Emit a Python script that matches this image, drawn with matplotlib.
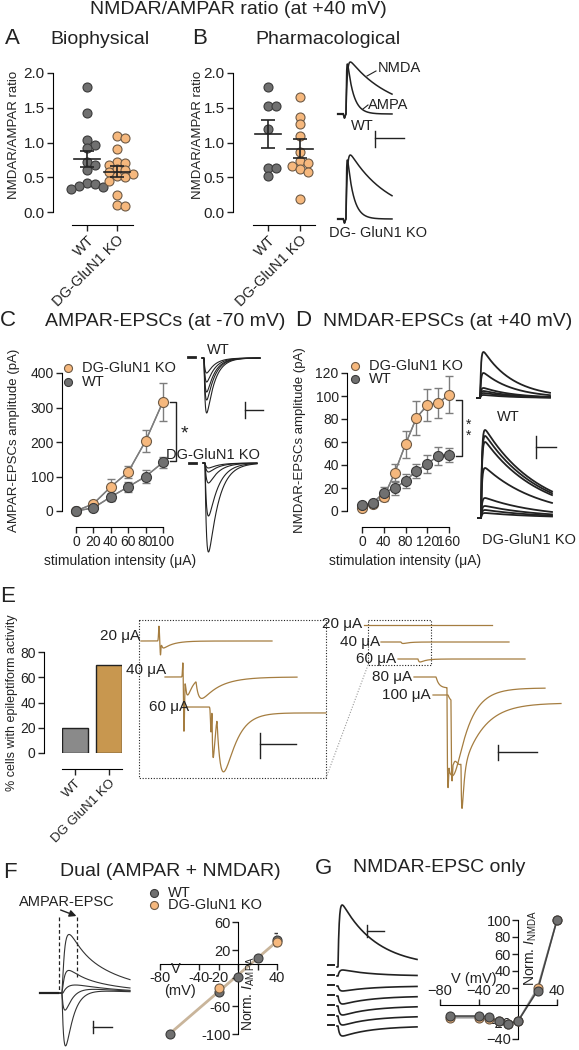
import numpy as np
import matplotlib
matplotlib.use("Agg")
from matplotlib import pyplot as plt
from matplotlib.ticker import FormatStrFormatter

plt.rcParams["font.family"] = ["Liberation Sans", "DejaVu Sans"]
plt.rcParams["mathtext.fontset"] = "custom"
plt.rcParams["mathtext.rm"] = "Liberation Sans"
plt.rcParams["mathtext.it"] = "Liberation Sans:italic"

W, H = 579, 1050
INK = "#222222"
GREY = "#707070"
GREY_EDGE = "#3a3a3a"
ORANGE = "#f6b87d"
ORANGE_EDGE = "#6e5a45"
GOLD = "#a57d40"
BAR_WT = "#8a8a8a"
BAR_KO = "#c8974f"
LINE = "#7d7d7d"

# ---------------- values ----------------
groups = ["WT", "DG-GluN1 KO"]

# A  biophysical NMDAR/AMPAR ratio
bio_wt = [1.80, 1.42, 1.04, 0.97, 0.92, 0.72, 0.68, 0.60, 0.42, 0.40, 0.38, 0.36, 0.33]
bio_ko = [1.10, 1.06, 0.90, 0.72, 0.70, 0.68, 0.62, 0.60, 0.58, 0.55, 0.52, 0.50,
          0.45, 0.25, 0.10, 0.08]
bio_mean = [0.76, 0.58]
bio_sem = [0.115, 0.075]

# B  pharmacological NMDAR/AMPAR ratio
pharm_wt = [1.80, 1.53, 1.53, 1.20, 0.64, 0.64, 0.52]
pharm_ko = [1.66, 1.36, 1.26, 1.10, 0.87, 0.73, 0.70, 0.66, 0.62, 0.58, 0.19]
pharm_mean = [1.12, 0.91]
pharm_sem = [0.20, 0.14]

# C  AMPAR-EPSC input/output
stim_ampa = [0, 20, 40, 60, 80, 100]
ampa_ko = [0, 21, 70, 113, 203, 317]
ampa_ko_err = [0, 4, 24, 17, 32, 55]
ampa_wt = [0, 9, 41, 70, 100, 141]
ampa_wt_err = [0, 4, 12, 15, 20, 16]

# D  NMDAR-EPSC input/output
stim_nmda = [0, 20, 40, 60, 80, 100, 120, 140, 160]
nmda_ko = [3, 6, 12, 33, 58, 81, 92, 94, 101]
nmda_ko_err = [1, 1, 3, 8, 12, 15, 14, 13, 16]
nmda_wt = [5, 7, 16, 20, 26, 35, 41, 48, 49]
nmda_wt_err = [1, 1, 5, 6, 6, 6, 8, 8, 6]

# E  % cells with epileptiform activity
epi_pct = [20, 70]

# F  AMPAR I-V (dual)
v_dual = [-70, -20, 0, 20, 40]
iampa_wt = [-100, -40, -18, 8, 35]
iampa_ko = [-100, -34, -18, 8, 31]
iampa_wt_err = [0, 3, 2, 3, 9]

# G  NMDAR I-V
v_nmda = [-70, -40, -30, -20, -10, 0, 20, 40]
inmda_wt = [-13, -13, -14, -19, -22, -19, 17, 100]
inmda_ko = [-15, -15, -17, -19, -22, -19, 20, 100]

# example traces (peak size, in scale-bar pixels)
b_ampa_peak = [50, 59]
b_nmda_peak = [52, 64]
c_wt_peaks = [15, 24, 34, 42, 55]
c_ko_peaks = [5, 9, 20, 53, 89]
d_wt_peaks = [46, 25, 10, 7, 5, 3]
d_ko_peaks = [88, 82, 76, 50, 20, 12, 8, 5]
e_stims = ["20 μA", "40 μA", "60 μA", "80 μA", "100 μA"]
f_ampa = [30, 12, 0, -20, -55]
f_nmda = [40, 15, 8, 6, 4]
g_peaks = [62, -6, 5, 8, 9, 9, 10]

fig = plt.figure(figsize=(W / 100, H / 100), dpi=100)


def box(x0, y0, x1, y1):
    return fig.add_axes([x0 / W, 1 - y1 / H, (x1 - x0) / W, (y1 - y0) / H])


def pt(px):
    return px * 0.72


def prism(ax, left_gap, bottom_gap, size=10):
    ax.spines["top"].set_visible(False)
    ax.spines["right"].set_visible(False)
    ax.spines["left"].set_position(("outward", pt(left_gap)))
    ax.spines["bottom"].set_position(("outward", pt(bottom_gap)))
    ax.patch.set_visible(False)
    ax.tick_params(length=4, width=1, labelsize=size, pad=2, colors=INK)


# simple beeswarm offsets (pixels -> data units); points may overlap a bit
def swarm(vals, xpx, ypx, d=6.5):
    placed = []
    offs = []
    for v in vals:
        y = v * ypx
        k = 0
        ok = None
        while ok is None:
            cands = [0.0] if k == 0 else [k * d * 0.6, -k * d * 0.6]
            for c in cands:
                if all((c - a) ** 2 + (y - b) ** 2 >= d ** 2 for a, b in placed):
                    ok = c
                    break
            k += 1
        placed.append((ok, y))
        offs.append(ok / xpx)
    return offs


def column(ax, data, means, sems, xpx, ypx):
    for i, vals in enumerate(data):
        fc, ec = (GREY, GREY_EDGE) if i == 0 else (ORANGE, ORANGE_EDGE)
        offs = np.array(swarm(vals, xpx, ypx)) + i
        ax.scatter(offs, vals, s=pt(9) ** 2, c=fc, edgecolors=ec, linewidths=0.8,
                   zorder=3, clip_on=False)
        ax.plot([i - 0.42, i + 0.42], [means[i]] * 2, color=INK, lw=1.2, zorder=4)
        ax.errorbar(i, means[i], yerr=sems[i], color=INK, lw=1.2, capsize=pt(7),
                    capthick=1.2, zorder=4)


def dose(ax, x, series):
    for y, e, fc, ec in series:
        ax.errorbar(x, y, yerr=e, color=LINE, lw=1, capsize=pt(4), capthick=1,
                    zorder=2, clip_on=False)
        ax.scatter(x, y, s=pt(10) ** 2, c=fc, edgecolors=ec, linewidths=0.8,
                   zorder=3, clip_on=False)


def psc(x, t0, amp, tr, td):
    t = np.clip(x - t0, 0, None)
    tp = tr * td / (td - tr) * np.log(td / tr)
    k = (np.exp(-t / td) - np.exp(-t / tr)) / (np.exp(-tp / td) - np.exp(-tp / tr))
    return amp * k


def spike(x, t0, amp, w=0.6):
    return amp * np.exp(-((x - t0) / w) ** 2)


def step(x, t0, amp, tau):
    return amp * (1 - np.exp(-np.clip(x - t0, 0, None) / tau))


# ---------------- A ----------------
axA = box(72, 73, 133, 212)
axA.set_ylim(0, 2)
axA.set_xlim(-0.5, 1.53)
prism(axA, 19, 13, size=11)
axA.set_yticks([0, 0.5, 1, 1.5, 2])
axA.yaxis.set_major_formatter(FormatStrFormatter("%.1f"))
axA.set_xticks([0, 1])
axA.set_xticklabels(groups, rotation=45, ha="right", rotation_mode="anchor", fontsize=10.5)
column(axA, [bio_wt, bio_ko], bio_mean, bio_sem, 30, 69.5)

# ---------------- B ----------------
axB = box(253, 73, 315, 212)
axB.set_ylim(0, 2)
axB.set_xlim(-0.47, 1.47)
prism(axB, 20, 13, size=11)
axB.set_yticks([0, 0.5, 1, 1.5, 2])
axB.yaxis.set_major_formatter(FormatStrFormatter("%.1f"))
axB.set_xticks([0, 1])
axB.set_xticklabels(groups, rotation=45, ha="right", rotation_mode="anchor", fontsize=10.5)
column(axB, [pharm_wt, pharm_ko], pharm_mean, pharm_sem, 32, 69.5)

# ---------------- C ----------------
axC = box(76, 373, 163, 511)
axC.set_xlim(0, 100)
axC.set_ylim(0, 400)
prism(axC, 14, 16, size=10)
axC.set_xticks(stim_ampa)
axC.set_yticks([0, 100, 200, 300, 400])
axC.plot(stim_ampa, ampa_ko, color=LINE, lw=1, zorder=1)
axC.plot(stim_ampa, ampa_wt, color=LINE, lw=1, zorder=1)
dose(axC, stim_ampa, [(ampa_ko, ampa_ko_err, ORANGE, ORANGE_EDGE),
                      (ampa_wt, ampa_wt_err, GREY, GREY_EDGE)])

# ---------------- D ----------------
axD = box(362, 373, 449, 511)
axD.set_xlim(0, 160)
axD.set_ylim(0, 120)
prism(axD, 15, 16, size=10)
axD.set_xticks([0, 40, 80, 120, 160])
axD.set_yticks([0, 20, 40, 60, 80, 100, 120])
axD.plot(stim_nmda, nmda_ko, color=LINE, lw=1, zorder=1)
axD.plot(stim_nmda, nmda_wt, color=LINE, lw=1, zorder=1)
dose(axD, stim_nmda, [(nmda_ko, nmda_ko_err, ORANGE, ORANGE_EDGE),
                      (nmda_wt, nmda_wt_err, GREY, GREY_EDGE)])

# ---------------- E bars ----------------
axE = box(62, 652, 122, 753)
axE.set_xlim(-0.38, 1.38)
axE.set_ylim(0, 80)
prism(axE, 18, 16, size=10)
axE.bar([0, 1], epi_pct, width=0.76, color=[BAR_WT, BAR_KO], edgecolor=INK, linewidth=1)
axE.set_yticks([0, 20, 40, 60, 80])
axE.set_xticks([0, 1])
axE.set_xticklabels(["WT", "DG GluN1 KO"], rotation=45, ha="right",
                    rotation_mode="anchor", fontsize=9.5)

# ---------------- F I-V ----------------
axF = box(160, 922, 277, 1034)
axF.set_xlim(-80, 40)
axF.set_ylim(-100, 60)
for s in ["top", "right"]:
    axF.spines[s].set_visible(False)
axF.spines["left"].set_position(("data", 0))
axF.spines["bottom"].set_position(("data", 0))
axF.patch.set_visible(False)
axF.tick_params(length=4, width=1, labelsize=10.5, pad=1, colors=INK)
axF.set_xticks([-80, -40, -20, 0, 20, 40])
axF.set_xticklabels(["-80", "-40", "-20", "", "", "40"])
axF.set_yticks([-100, -60, -20, 20, 60])
axF.set_yticklabels(["-100", "-60", "", "20", "60"])
fit = np.polyfit(v_dual + v_dual, iampa_wt + iampa_ko, 1)
vv = np.array([v_dual[0], v_dual[-1]])
axF.plot(vv, np.polyval(fit, vv), color="#c9b59b", lw=2, zorder=1)
axF.errorbar(v_dual, iampa_wt, yerr=iampa_wt_err, fmt="none", ecolor=GREY_EDGE,
             capsize=pt(3), lw=1, zorder=2)
axF.scatter(v_dual, iampa_wt, s=pt(9) ** 2, c=GREY, edgecolors=GREY_EDGE, lw=0.8,
            zorder=3, clip_on=False)
axF.scatter(v_dual[1::3], iampa_ko[1::3], s=pt(9) ** 2, c=ORANGE, edgecolors=ORANGE_EDGE,
            lw=0.8, zorder=3, clip_on=False)

# ---------------- G I-V ----------------
axG = box(440, 920, 557, 1039)
axG.set_xlim(-80, 40)
axG.set_ylim(-40, 100)
for s in ["bottom", "right"]:
    axG.spines[s].set_visible(False)
axG.spines["left"].set_position(("data", 0))
axG.spines["top"].set_position(("data", 0))
axG.xaxis.set_ticks_position("top")
axG.patch.set_visible(False)
axG.tick_params(length=4, width=1, labelsize=10.5, pad=1, colors=INK)
axG.set_xticks([-80, -40, 40])
axG.set_yticks([-40, -20, 20, 40, 60, 80, 100])
axG.plot(v_nmda, inmda_ko, color="#9a9a9a", lw=1.2, zorder=1)
axG.plot(v_nmda, inmda_wt, color="#444444", lw=1.2, zorder=1)
axG.scatter(v_nmda, inmda_ko, s=pt(9) ** 2, c=ORANGE, edgecolors=ORANGE_EDGE, lw=0.8,
            zorder=3, clip_on=False)
axG.scatter(v_nmda, inmda_wt, s=pt(9) ** 2, c=GREY, edgecolors=GREY_EDGE, lw=0.8,
            zorder=4, clip_on=False)

# ---------------- overlay: text + traces, pixel coords ----------------
ov = fig.add_axes([0, 0, 1, 1], zorder=10)
ov.set_xlim(0, W)
ov.set_ylim(H, 0)
ov.axis("off")


def txt(x, y, s, size=10.5, ha="left", va="center", **kw):
    ov.text(x, y, s, fontsize=size, ha=ha, va=va, color=INK, **kw)


def bar(x, y0, y1, x1, yh, color=INK):
    ov.plot([x, x], [y0, y1], color=color, lw=1)
    ov.plot([x, x1], [yh, yh], color=color, lw=1)


def legend_pts(x, ys, labels, size=10.5):
    for y, lab, fc, ec in zip(ys, labels, [ORANGE, GREY], [ORANGE_EDGE, GREY_EDGE]):
        ov.scatter([x], [y], s=pt(8) ** 2, c=fc, edgecolors=ec, lw=0.8)
        txt(x + 14, y, lab, size)


# titles and panel letters
txt(90, 9, "NMDAR/AMPAR ratio (at +40 mV)", 14)
txt(5, 38, "A", 16)
txt(50, 40, "Biophysical", 14)
txt(192, 38, "B", 16)
txt(255, 40, "Pharmacological", 14)
txt(14, 135, "NMDAR/AMPAR ratio", 9.5, ha="center", rotation=90)
txt(198, 135, "NMDAR/AMPAR ratio", 9.5, ha="center", rotation=90)

txt(0, 320, "C", 16)
txt(45, 321, "AMPAR-EPSCs (at -70 mV)", 14)
txt(295, 320, "D", 16)
txt(323, 321, "NMDAR-EPSCs (at +40 mV)", 14)
txt(14, 440, "AMPAR-EPSCs amplitude (pA)", 9.5, ha="center", rotation=90)
txt(300, 440, "NMDAR-EPSCs amplitude (pA)", 9.5, ha="center", rotation=90)
txt(120, 561, "stimulation intensity (μA)", 10, ha="center")
txt(405, 561, "stimulation intensity (μA)", 10, ha="center")
legend_pts(68, [368, 382], ["DG-GluN1 KO", "WT"])
legend_pts(355, [366, 379], ["DG-GluN1 KO", "WT"])

# significance brackets
ov.plot([170, 176, 176, 170], [402, 402, 461, 461], color=INK, lw=1)
txt(184, 434, "*", 14, ha="center")
ov.plot([456, 462, 462, 456], [400, 400, 456, 456], color=INK, lw=1)
txt(469, 430, "*\n*", 10, ha="center", linespacing=0.75)

# B traces
xb = np.linspace(343, 392, 400)
for base, a_amp, n_amp, tdn in [(114, b_ampa_peak[0], b_nmda_peak[0], 42),
                                (219, b_ampa_peak[1], b_nmda_peak[1], 40)]:
    art = spike(xb, 344.5, -4, 0.8)
    ov.plot(xb, base - psc(xb, 346, a_amp, 0.5, 6) - art, color=INK, lw=1.1)
    ov.plot(xb, base - psc(xb, 346, n_amp, 1.2, tdn) - art, color=INK, lw=1.1)
    ov.plot([338, 343], [base, base], color=INK, lw=1.6)
txt(378, 68, "NMDA", 10.5)
ov.plot([367, 376], [76, 71], color=INK, lw=0.8)
txt(368, 105, "AMPA", 10.5)
ov.plot([363, 368], [109, 105], color=INK, lw=0.8)
txt(351, 126, "WT", 10.5)
bar(375, 131, 147, 404, 138)
txt(329, 233, "DG- GluN1 KO", 10.5)

# C traces
xc = np.linspace(202, 260, 400)
for a in c_wt_peaks:
    ov.plot(xc, 358 + psc(xc, 204, a, 1.2, 8), color=INK, lw=0.8)
ov.plot([188, 195], [357, 357], color=INK, lw=2)
txt(218, 350, "WT", 10.5, ha="center")
bar(245, 402, 418, 263, 410)
xc = np.linspace(203, 257, 400)
for a in c_ko_peaks:
    ov.plot(xc, 463 + psc(xc, 205, a, 1.6, 10), color=INK, lw=0.8)
ov.plot([189, 196], [463, 463], color=INK, lw=2)
txt(213, 455, "DG-GluN1 KO", 10.5, ha="center")

# D traces
xd = np.linspace(477, 550, 400)
for a in d_wt_peaks:
    ov.plot(xd, 398 - psc(xd, 480, a, 1.0, 30), color=INK, lw=1.3)
txt(508, 417, "WT", 10.5, ha="center")
bar(536, 436, 458, 556, 447)
xd = np.linspace(478, 552, 400)
for a in d_ko_peaks:
    ov.plot(xd, 518 - psc(xd, 481, a, 1.0, 55), color=INK, lw=1.3)
txt(529, 540, "DG-GluN1 KO", 10.5, ha="center")

# E
txt(0, 597, "E", 16)
txt(12, 703, "% cells with epileptiform activity", 9, ha="center", rotation=90)
ov.plot([139, 326, 326, 139, 139], [620, 620, 778, 778, 620], color=INK, lw=0.8, ls=(0, (1, 1.5)))
ov.plot([368, 431, 431, 368, 368], [620, 620, 665, 665, 620], color=INK, lw=0.8, ls=(0, (1, 1.5)))
ov.plot([326, 368], [778, 665], color="#999999", lw=0.8, ls=(0, (1, 1.5)))

x1 = np.linspace(141, 272, 600)
ov.plot(x1, 641 - spike(x1, 159, 15) + spike(x1, 160.5, 14) + psc(x1, 161, 7, 1, 10),
        color=GOLD, lw=0.9)
x2 = np.linspace(165, 297, 600)
ov.plot(x2, 677 - spike(x2, 183, 19) + spike(x2, 184, 56, 0.7) + psc(x2, 185, 18, 1.5, 5)
        + psc(x2, 196, 20, 3, 18), color=GOLD, lw=0.9)
x3 = np.linspace(185, 326, 700)
ov.plot(x3, 707 + spike(x3, 211, 25, 0.7) + psc(x3, 212, 50, 0.8, 2)
        + psc(x3, 217, 62, 4, 12) + step(x3, 211, 6, 25), color=GOLD, lw=0.9)
txt(140, 636, e_stims[0], 11, ha="right")
txt(166, 670, e_stims[1], 11, ha="right")
txt(189, 707, e_stims[2], 11, ha="right")
bar(260, 733, 758, 296, 744)

for i, (y0, xs0, xs1) in enumerate([(625, 364, 492), (642, 381, 509), (659, 398, 525)]):
    xr = np.linspace(xs0, xs1, 300)
    ov.plot(xr, y0 + psc(xr, xs0 + 20, 1.5 * i, 1, 6), color=GOLD, lw=0.9)
txt(362, 624, e_stims[0], 11, ha="right")
txt(380, 642, e_stims[1], 11, ha="right")
txt(396, 659, e_stims[2], 11, ha="right")
txt(412, 677, e_stims[3], 11, ha="right")
txt(431, 695, e_stims[4], 11, ha="right")
x4 = np.linspace(414, 545, 800)
ov.plot(x4, 677 + step(x4, 436, 11, 3) + psc(x4, 447, 100, 0.6, 2)
        + psc(x4, 449, 80, 3, 14), color=GOLD, lw=0.9)
x5 = np.linspace(433, 561, 800)
ov.plot(x5, 695 + step(x5, 448, 8, 3) + psc(x5, 451, 80, 0.6, 2)
        + psc(x5, 461, 45, 0.6, 2) + psc(x5, 453, 60, 4, 20), color=GOLD, lw=0.9)
bar(498, 745, 760, 537, 752)

# F
txt(3, 872, "F", 16)
txt(60, 872, "Dual (AMPAR + NMDAR)", 14)
txt(67, 902, "AMPAR-EPSC", 10.5, ha="center")
ov.annotate("", xy=(79, 917), xytext=(58, 909),
            arrowprops=dict(arrowstyle="-|>", color=INK, lw=1, mutation_scale=10))
ov.plot([59, 59], [917, 993], color=INK, lw=0.9, ls=(0, (3, 2)))
ov.plot([77, 77], [917, 977], color=INK, lw=0.9, ls=(0, (3, 2)))
xf = np.linspace(60, 130, 400)
for a, n in zip(f_ampa, f_nmda):
    ov.plot(xf, 993 - psc(xf, 62, a, 2, 8) - psc(xf, 63, n, 5, 45), color="#333333", lw=0.8)
ov.plot([40, 58], [993, 993], color=INK, lw=1.6)
bar(93, 1021, 1033, 112, 1027)
legend_pts(154, [905, 893], ["DG-GluN1 KO", "WT"])
txt(176, 969, "V", 10.5, ha="center")
txt(180, 991, "(mV)", 10.5, ha="center")
txt(249, 993, r"Norm. $I_\mathrm{AMPA}$", 10, ha="center", rotation=90)

# G
txt(315, 868, "G", 16)
txt(353, 868, "NMDAR-EPSC only", 14)
xg = np.linspace(337, 417, 400)
ov.plot(xg, 967 - psc(xg, 338, g_peaks[0], 1.2, 35), color=INK, lw=1.2)
for k, a in enumerate(g_peaks[1:]):
    base = 976 + k * 10
    ov.plot(xg, base + psc(xg, 338, a, 1.5, 30), color=INK, lw=1.2)
for k in range(len(g_peaks)):
    ov.plot([328, 334], [965 + k * 10, 965 + k * 10], color=INK, lw=1.4)
bar(367, 925, 937, 384, 931)
txt(474, 979, "V (mV)", 10.5, ha="center")
txt(531, 948, r"Norm. $I_\mathrm{NMDA}$", 10, ha="center", rotation=90)

fig.savefig("out.png", dpi=100)
